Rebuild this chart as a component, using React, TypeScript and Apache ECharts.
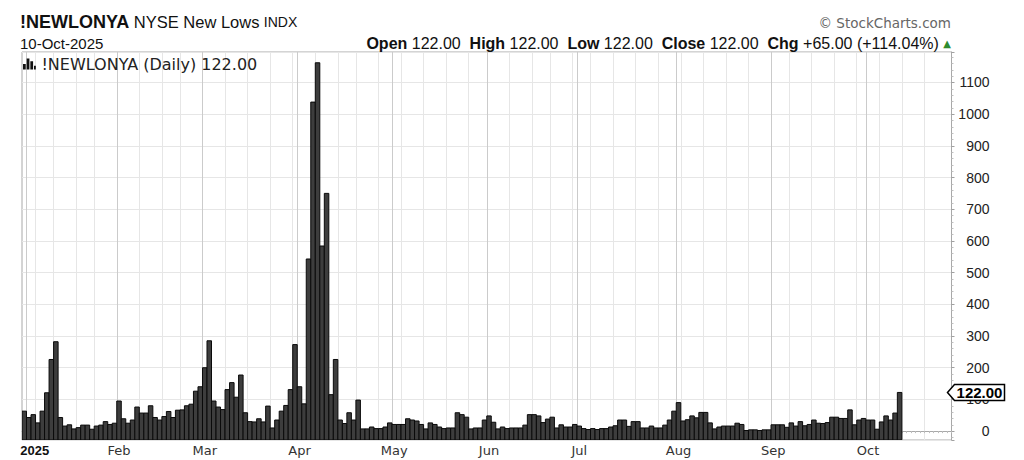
import React, { useEffect, useRef } from "react";
import * as echarts from "echarts";

// ---- Data ----
const dec2024Days = [31];
const janDays = [2, 3, 6, 7, 8, 10, 13, 14, 15, 16, 17, 21, 22, 23, 24, 27, 28, 29, 30, 31];
const febDays = [3, 4, 5, 6, 7, 10, 11, 12, 13, 14, 18, 19, 20, 21, 24, 25, 26, 27, 28];
const marDays = [3, 4, 5, 6, 7, 10, 11, 12, 13, 14, 17, 18, 19, 20, 21, 24, 25, 26, 27, 28, 31];
const aprDays = [1, 2, 3, 4, 7, 8, 9, 10, 11, 14, 15, 16, 17, 21, 22, 23, 24, 25, 28, 29, 30];
const mayDays = [1, 2, 5, 6, 7, 8, 9, 12, 13, 14, 15, 16, 19, 20, 21, 22, 23, 27, 28, 29, 30];
const junDays = [2, 3, 4, 5, 6, 9, 10, 11, 12, 13, 16, 17, 18, 20, 23, 24, 25, 26, 27, 30];
const julDays = [1, 2, 3, 7, 8, 9, 10, 11, 14, 15, 16, 17, 18, 21, 22, 23, 24, 25, 28, 29, 30, 31];
const augDays = [1, 4, 5, 6, 7, 8, 11, 12, 13, 14, 15, 18, 19, 20, 21, 22, 25, 26, 27, 28, 29];
const sepDays = [2, 3, 4, 5, 8, 9, 10, 11, 12, 15, 16, 17, 18, 19, 22, 23, 24, 25, 26, 29, 30];
const octDays = [1, 2, 3, 6, 7, 8, 9, 10];
const futureOctDays = [13, 14, 15, 16, 17, 20, 21, 22, 23, 24, 27];

const dec2024Values = [63];
const janValues = [43, 52, 26, 63, 121, 226, 282, 43, 16, 20, 7, 11, 19, 19, 6, 16, 19, 30, 21, 25];
const febValues = [95, 39, 25, 35, 76, 57, 57, 80, 43, 35, 46, 62, 43, 66, 67, 80, 85, 126, 140];
const marValues = [200, 285, 95, 76, 68, 131, 153, 107, 177, 58, 30, 29, 39, 29, 79, 10, 35, 63, 81, 131, 273];
const aprValues = [140, 86, 543, 1038, 1162, 584, 750, 115, 226, 35, 24, 58, 35, 98, 7, 7, 13, 8, 8, 13, 26];
const mayValues = [21, 21, 21, 39, 35, 32, 21, 7, 26, 21, 13, 8, 10, 10, 58, 52, 44, 7, 10, 10, 35];
const junValues = [48, 28, 7, 13, 8, 10, 10, 10, 19, 52, 52, 48, 27, 38, 44, 10, 20, 13, 13, 21];
const julValues = [16, 8, 5, 8, 5, 8, 8, 13, 17, 35, 35, 15, 30, 30, 10, 10, 16, 10, 10, 19, 35, 63];
const augValues = [90, 32, 36, 48, 42, 59, 59, 26, 7, 13, 16, 16, 16, 25, 21, 2, 4, 4, 2, 4, 4];
const sepValues = [20, 20, 20, 12, 26, 16, 30, 17, 21, 35, 25, 24, 27, 44, 44, 40, 40, 67, 20, 35, 40];
const octValues = [35, 35, 6, 29, 48, 35, 57, 122];

const monthNames = ["Jan", "Feb", "Mar", "Apr", "May", "Jun", "Jul", "Aug", "Sep", "Oct", "Nov", "Dec"];
const yAxisMin = -28;
const yAxisMax = 1196;

const periods = [
  { year: 2024, month: 12, days: dec2024Days, values: dec2024Values },
  { year: 2025, month: 1, days: janDays, values: janValues },
  { year: 2025, month: 2, days: febDays, values: febValues },
  { year: 2025, month: 3, days: marDays, values: marValues },
  { year: 2025, month: 4, days: aprDays, values: aprValues },
  { year: 2025, month: 5, days: mayDays, values: mayValues },
  { year: 2025, month: 6, days: junDays, values: junValues },
  { year: 2025, month: 7, days: julDays, values: julValues },
  { year: 2025, month: 8, days: augDays, values: augValues },
  { year: 2025, month: 9, days: sepDays, values: sepValues },
  { year: 2025, month: 10, days: octDays, values: octValues },
  { year: 2025, month: 10, days: futureOctDays, values: [] as number[] },
];

// ---- Build categories / labels ----
const pad = (n: number) => (n < 10 ? "0" + n : "" + n);
const categories: string[] = [];
const dates: Date[] = [];
const seriesData: [number, number][] = [];
const labelMap: Record<string, string> = {};
const monthStart = new Set<number>();
let lastMonthKey = "";
periods.forEach((p) => {
  p.days.forEach((d, j) => {
    const key = `${p.year}-${pad(p.month)}-${pad(d)}`;
    const idx = categories.length;
    categories.push(key);
    dates.push(new Date(p.year, p.month - 1, d));
    const mk = `${p.year}-${p.month}`;
    if (mk !== lastMonthKey) {
      if (idx > 0) {
        monthStart.add(idx);
        labelMap[key] = p.month === 1 ? `{yr|${p.year}}` : monthNames[p.month - 1];
      }
      lastMonthKey = mk;
    }
    if (j < p.values.length) seriesData.push([idx, p.values[j]]);
  });
});
const weekStart = new Set<number>();
for (let i = 1; i < dates.length - 1; i++) {
  const gap = (dates[i].getTime() - dates[i - 1].getTime()) / 86400000;
  if ((dates[i].getDay() < dates[i - 1].getDay() || gap >= 7) && !monthStart.has(i)) weekStart.add(i);
}

const lastValue = seriesData[seriesData.length - 1][1];
const prevValue = seriesData[seriesData.length - 2][1];
const change = lastValue - prevValue;
const pct = (change / prevValue) * 100;

// ---- Layout ----
const GRID_LEFT = 22;
const GRID_TOP = 52;
const GRID_WIDTH = 929.5;
const GRID_HEIGHT = 388;
const SANS = "'Liberation Sans', Arial, Helvetica, sans-serif";
const VERD = "'DejaVu Sans', Verdana, sans-serif";

const fmt = (v: number) => v.toFixed(2);

export default function App() {
  const ref = useRef<HTMLDivElement>(null);
  useEffect(() => {
    if (!ref.current) return;
    const chart = echarts.init(ref.current, undefined, { renderer: "svg" });
    const legendName = `!NEWLONYA (Daily) ${fmt(lastValue)}`;
    const header: any[] = [
      {
        id: "title",
        type: "text",
        x: 20,
        y: 22,
        style: {
          text: "{t|!NEWLONYA} {n|NYSE New Lows} {x|INDX}",
          fontFamily: SANS,
          fontSize: 16,
          fill: "#111",
          verticalAlign: "middle",
          rich: {
            t: { fontFamily: SANS, fontWeight: "bold", fontSize: 18, fill: "#111" },
            n: { fontFamily: SANS, fontSize: 16.5, fill: "#111" },
            x: { fontFamily: SANS, fontSize: 14, fill: "#111" },
          },
        },
      },
      {
        id: "date",
        type: "text",
        x: 20,
        y: 43,
        style: { text: "10-Oct-2025", fontFamily: SANS, fontSize: 15, fill: "#111", verticalAlign: "middle" },
      },
      {
        id: "brand",
        type: "text",
        x: 951,
        y: 23,
        style: {
          text: "© StockCharts.com",
          fontFamily: VERD,
          fontSize: 13.5,
          fill: "#666",
          align: "right",
          verticalAlign: "middle",
        },
      },
      {
        id: "ohlc",
        type: "text",
        x: 951,
        y: 43,
        style: {
          text:
            `{b|Open} {v|${fmt(lastValue)}}  {b|High} {v|${fmt(lastValue)}}  {b|Low} {v|${fmt(lastValue)}}  ` +
            `{b|Close} {v|${fmt(lastValue)}}  {b|Chg} {v|+${fmt(change)} (+${fmt(pct)}%)} {g|▲}`,
          fontFamily: SANS,
          fontSize: 16,
          fill: "#111",
          align: "right",
          verticalAlign: "middle",
          rich: {
            b: { fontFamily: SANS, fontWeight: "bold", fontSize: 16, fill: "#111" },
            v: { fontFamily: SANS, fontSize: 16, fill: "#111" },
            g: { fontFamily: VERD, fontSize: 10, fill: "#2e8b2e" },
          },
        },
      },
    ];

    const option: any = {
      animation: false,
      backgroundColor: "#ffffff",
      grid: {
        left: GRID_LEFT,
        top: GRID_TOP,
        width: GRID_WIDTH,
        height: GRID_HEIGHT,
        show: true,
        borderColor: "#a8a8a8",
        borderWidth: 1,
        backgroundColor: "transparent",
      },
      legend: {
        show: true,
        left: 23,
        top: 56,
        padding: 0,
        itemWidth: 14,
        itemHeight: 11,
        icon: "path://M0,6h3v6h-3z M4,0h3v12h-3z M8,3h3v9h-3z M12,8h2v4h-2z",
        data: [{ name: legendName, itemStyle: { color: "#111" } }],
        textStyle: { fontFamily: VERD, fontSize: 16, color: "#222" },
        selectedMode: false,
      },
      xAxis: [
        {
          type: "category",
          data: categories,
          boundaryGap: true,
          axisLine: { show: true, lineStyle: { color: "#a8a8a8" } },
          axisTick: { show: true, interval: 0, length: 2, lineStyle: { color: "#bdbdbd" } },
          axisLabel: {
            interval: (i: number) => monthStart.has(i),
            formatter: (v: string) => labelMap[v] || "",
            margin: 4,
            fontFamily: VERD,
            fontSize: 13,
            color: "#333",
            rich: {
              yr: { fontFamily: SANS, fontWeight: "bold", fontSize: 13, color: "#111", padding: [0, 0, 0, 12] },
            },
          },
          splitLine: {
            show: true,
            interval: (i: number) => monthStart.has(i),
            lineStyle: { color: "#cbcbcb", width: 1 },
          },
        },
        {
          type: "category",
          data: categories,
          boundaryGap: true,
          position: "bottom",
          axisLine: { show: false },
          axisTick: { show: false },
          axisLabel: { show: false },
          splitLine: {
            show: true,
            interval: (i: number) => weekStart.has(i),
            lineStyle: { color: "#e6e6e6", width: 1 },
          },
        },
      ],
      yAxis: {
        type: "value",
        position: "right",
        min: yAxisMin,
        max: yAxisMax,
        splitNumber: 12,
        axisLine: { show: true, lineStyle: { color: "#a8a8a8" } },
        axisTick: { show: true, length: 3, lineStyle: { color: "#a0a0a0" } },
        minorTick: { show: true, splitNumber: 5, length: 2, lineStyle: { color: "#c0c0c0" } },
        axisLabel: {
          formatter: (v: number) => (v >= 0 && Math.abs(v % 100) < 1e-6 ? String(v) : ""),
          align: "right",
          margin: 38,
          fontFamily: SANS,
          fontSize: 14,
          color: "#222",
          showMinLabel: false,
          showMaxLabel: false,
        },
        splitLine: { show: true, lineStyle: { color: "#e6e6e6" } },
      },
      series: [
        {
          name: legendName,
          type: "custom",
          xAxisIndex: 0,
          yAxisIndex: 0,
          clip: true,
          itemStyle: { color: "#111" },
          encode: { x: 0, y: 1 },
          data: seriesData,
          renderItem: (params: any, api: any) => {
            const idx = api.value(0);
            const v = api.value(1);
            const top = api.coord([idx, v]);
            const bottom = api.coord([idx, yAxisMin]);
            const w = api.size([1, 0])[0];
            return {
              type: "rect",
              shape: { x: top[0] - w / 2, y: top[1], width: w, height: bottom[1] - top[1] },
              style: { fill: "#3d3d3d", stroke: "#0a0a0a", lineWidth: 1 },
            };
          },
        },
      ],
      graphic: header,
    };
    chart.setOption(option);

    const yTag = chart.convertToPixel({ yAxisIndex: 0 }, lastValue) as number;
    const x0 = GRID_LEFT + GRID_WIDTH - 4;
    chart.setOption({
      graphic: [
        ...header,
        {
          id: "tagShape",
          type: "polygon",
          z: 100,
          shape: {
            points: [
              [x0, yTag],
              [x0 + 7, yTag - 8],
              [x0 + 57, yTag - 8],
              [x0 + 57, yTag + 8],
              [x0 + 7, yTag + 8],
            ],
          },
          style: { fill: "#ffffff", stroke: "#000000", lineWidth: 1.5 },
        },
        {
          id: "tagText",
          type: "text",
          z: 101,
          x: x0 + 32,
          y: yTag + 0.5,
          style: {
            text: fmt(lastValue),
            fontFamily: SANS,
            fontWeight: "bold",
            fontSize: 15,
            fill: "#000",
            align: "center",
            verticalAlign: "middle",
          },
        },
      ],
    });
    return () => chart.dispose();
  }, []);
  return <div ref={ref} style={{ position: "absolute", left: 0, top: 0, width: 1024, height: 460 }} />;
}
